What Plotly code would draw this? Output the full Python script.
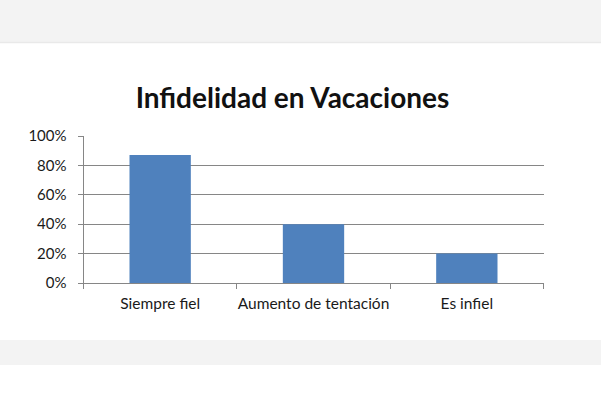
import plotly.graph_objects as go

# data
categorias = ['Siempre fiel', 'Aumento de tentación', 'Es infiel']
porcentajes = [0.87, 0.40, 0.20]
titulo = 'Infidelidad en Vacaciones'

W, H = 601, 400
gris = '#868686'
azul = '#4F81BD'
letra = 'Lato, Calibri, sans-serif'

fig = go.Figure()
fig.add_trace(go.Bar(x=categorias, y=porcentajes, marker_color=azul,
                     marker_line_width=0, width=0.4))

# page bands above and below the picture
fig.add_shape(type='rect', xref='paper', yref='paper', x0=0, x1=1,
              y0=1 - 43 / H, y1=1, fillcolor='#F3F3F3', line_width=0, layer='below')
fig.add_shape(type='line', xref='paper', yref='paper', x0=0, x1=1,
              y0=1 - 42.5 / H, y1=1 - 42.5 / H, line=dict(color='#E9E9E9', width=1.5),
              layer='below')
fig.add_shape(type='rect', xref='paper', yref='paper', x0=0, x1=1,
              y0=1 - 365 / H, y1=1 - 340 / H, fillcolor='#F3F3F3', line_width=0, layer='below')

fig.update_layout(
    width=W, height=H,
    margin=dict(l=0, r=0, t=0, b=0),
    paper_bgcolor='white', plot_bgcolor='white',
    showlegend=False,
    font=dict(family=letra, color='#1a1a1a'),
    title=dict(text='<b>' + titulo + '</b>', x=292.5 / W, xanchor='center',
               y=1 - 98 / H, yanchor='middle', yref='paper',
               font=dict(size=28, family=letra, color='#111111')),
    xaxis=dict(domain=[83.5 / W, 543.5 / W], showgrid=False, automargin=False,
               showline=True, linecolor=gris, linewidth=1, tickangle=0,
               ticks='outside', tickson='boundaries', ticklen=5, tickcolor=gris,
               ticklabelstandoff=6, tickfont=dict(size=15.5)),
    yaxis=dict(domain=[1 - 283 / H, 1 - 136 / H], range=[0, 1], dtick=0.2,
               automargin=False, tickformat='.0%',
               showgrid=True, gridcolor=gris, gridwidth=1,
               showline=True, linecolor=gris, linewidth=1, zeroline=False,
               ticks='outside', ticklen=5, tickcolor=gris,
               ticklabelstandoff=8, tickfont=dict(size=15)),
)

# pin the figure to the top-left corner of the window
pin = ("document.body.style.margin='0';document.body.style.overflow='hidden';"
       "var d=document.getElementById('{plot_id}');"
       "d.style.position='fixed';d.style.top='0';d.style.left='0';")
fig.write_html('out.html', config={'displayModeBar': False}, post_script=pin)
